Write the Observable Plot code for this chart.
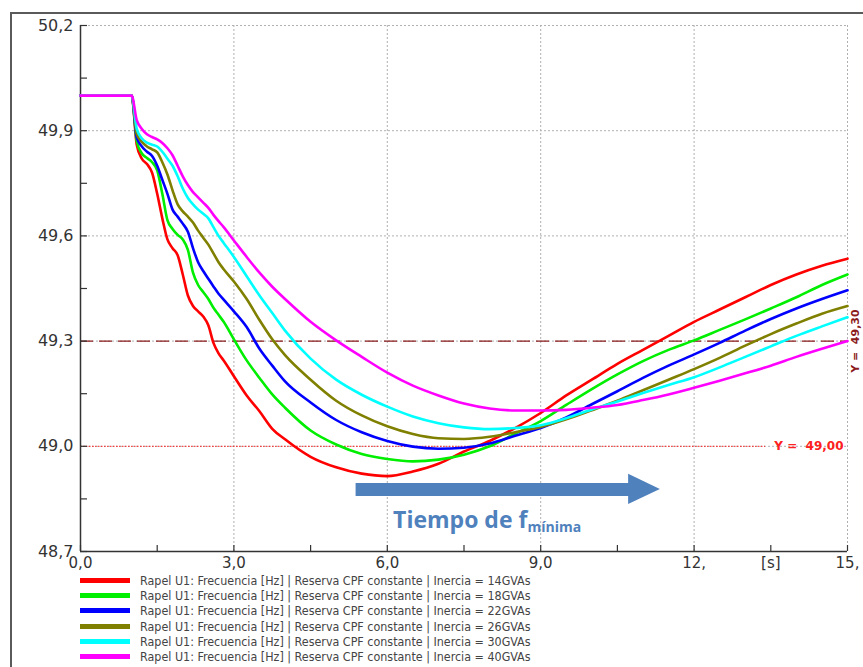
<!DOCTYPE html>
<html><head><meta charset="utf-8">
<script src="https://cdn.jsdelivr.net/npm/d3@7"></script>
<script src="https://cdn.jsdelivr.net/npm/@observablehq/plot@0.6"></script>
<style>
body{margin:0;background:#fff;}
#wrap{position:relative;width:863px;height:667px;overflow:hidden;background:#fff;}
#chart{position:absolute;left:0;top:0;}
#frame{position:absolute;left:10px;top:12px;width:900px;height:700px;border-top:2px solid #5a5a5a;border-left:2px solid #5a5a5a;pointer-events:none;}
#legend{position:absolute;left:80px;top:573px;font-family:"DejaVu Sans Condensed","DejaVu Sans";font-stretch:condensed;font-size:12.4px;color:#444;}
.row{display:flex;align-items:center;height:15.2px;white-space:nowrap;}
.sw{width:50px;height:5px;margin-right:10px;}
</style></head>
<body><div id="wrap"><div id="chart"></div><div id="frame"></div><div id="legend"></div></div>
<script>
// time grid [s]
const time = [0, 1.0, 1.1, 1.2, 1.3, 1.4, 1.5, 1.6, 1.7, 1.8, 1.9, 2.0, 2.1, 2.2, 2.3, 2.4, 2.5, 2.6, 2.7, 2.8, 3.0, 3.25, 3.5, 3.75, 4.0, 4.5, 5.0, 5.5, 6.0, 6.5, 7.0, 7.5, 8.0, 8.5, 9.0, 9.5, 10, 10.5, 11, 11.5, 12, 12.5, 13, 13.5, 14, 14.5, 15];
// frequency [Hz] per inertia
const f14 = [50.0, 50.0, 49.86, 49.82, 49.805, 49.78, 49.72, 49.65, 49.59, 49.565, 49.545, 49.49, 49.43, 49.40, 49.385, 49.37, 49.345, 49.295, 49.265, 49.245, 49.20, 49.145, 49.10, 49.05, 49.02, 48.97, 48.94, 48.922, 48.915, 48.928, 48.95, 48.985, 49.015, 49.052, 49.095, 49.145, 49.19, 49.235, 49.275, 49.315, 49.355, 49.39, 49.425, 49.46, 49.49, 49.515, 49.535];
const f18 = [50.0, 50.0, 49.87, 49.835, 49.822, 49.81, 49.787, 49.72, 49.645, 49.62, 49.603, 49.59, 49.56, 49.495, 49.46, 49.44, 49.42, 49.395, 49.375, 49.355, 49.305, 49.245, 49.195, 49.148, 49.11, 49.045, 49.005, 48.978, 48.964, 48.957, 48.962, 48.976, 49.0, 49.036, 49.072, 49.118, 49.163, 49.205, 49.243, 49.275, 49.302, 49.332, 49.362, 49.393, 49.425, 49.46, 49.49];
const f22 = [50.0, 50.0, 49.88, 49.855, 49.84, 49.828, 49.80, 49.76, 49.72, 49.675, 49.655, 49.635, 49.612, 49.565, 49.525, 49.50, 49.478, 49.456, 49.435, 49.418, 49.385, 49.34, 49.278, 49.23, 49.185, 49.125, 49.075, 49.04, 49.015, 48.999, 48.993, 48.996, 49.008, 49.03, 49.052, 49.082, 49.12, 49.157, 49.195, 49.23, 49.262, 49.295, 49.33, 49.363, 49.393, 49.42, 49.445];
const f26 = [50.0, 50.0, 49.89, 49.868, 49.855, 49.847, 49.838, 49.81, 49.775, 49.73, 49.69, 49.67, 49.655, 49.638, 49.615, 49.595, 49.575, 49.55, 49.525, 49.505, 49.47, 49.42, 49.36, 49.305, 49.26, 49.19, 49.13, 49.088, 49.057, 49.035, 49.023, 49.021, 49.027, 49.04, 49.055, 49.077, 49.103, 49.13, 49.16, 49.19, 49.22, 49.252, 49.287, 49.32, 49.35, 49.378, 49.40];
const f30 = [50.0, 50.0, 49.905, 49.878, 49.866, 49.86, 49.855, 49.84, 49.82, 49.80, 49.77, 49.735, 49.708, 49.69, 49.675, 49.663, 49.65, 49.625, 49.60, 49.58, 49.54, 49.485, 49.43, 49.38, 49.33, 49.25, 49.19, 49.147, 49.113, 49.085, 49.066, 49.054, 49.049, 49.052, 49.06, 49.08, 49.105, 49.128, 49.152, 49.175, 49.197, 49.225, 49.255, 49.285, 49.315, 49.342, 49.368];
const f40 = [50.0, 50.0, 49.93, 49.905, 49.89, 49.882, 49.875, 49.865, 49.85, 49.83, 49.80, 49.77, 49.745, 49.725, 49.71, 49.695, 49.68, 49.66, 49.642, 49.625, 49.587, 49.54, 49.495, 49.455, 49.42, 49.355, 49.302, 49.255, 49.21, 49.173, 49.145, 49.122, 49.108, 49.102, 49.102, 49.104, 49.11, 49.118, 49.132, 49.148, 49.167, 49.187, 49.208, 49.23, 49.255, 49.278, 49.30];

const inertia = ["14GVAs", "18GVAs", "22GVAs", "26GVAs", "30GVAs", "40GVAs"];
const seriesValues = [f14, f18, f22, f26, f30, f40];
const colors = ["#ff0000", "#00ee00", "#0000ff", "#808000", "#00ffff", "#ff00ff"];
const labelPrefix = "Rapel U1: Frecuencia [Hz] | Reserva CPF constante | Inercia = ";

// axes
const yTicks = [48.7, 49.0, 49.3, 49.6, 49.9, 50.2];
const xTicks = [0, 3, 6, 9, 12, 13.5, 15];
const xTickLabels = ["0,0", "3,0", "6,0", "9,0", "12,", "[s]", "15,"];
const xGrid = [3, 6, 9, 12, 15];
const yGrid = [49.0, 49.3, 49.6, 49.9, 50.2];
const xMinor = [0, 1.5, 3, 4.5, 6, 7.5, 9, 10.5, 12, 13.5, 15];
const yMinor = [48.7, 48.85, 49.0, 49.15, 49.3, 49.45, 49.6, 49.75, 49.9, 50.05, 50.2];

// reference lines and annotation
const refLines = [49.30, 49.00];
const refLabels = ["Y =  49,30", "Y =  49,00"];
const arrowShaftX = [5.38, 10.75];
const arrowLevel = 48.877;
const arrowHeadX = [10.72, 11.34];
const arrowHeadLow = [48.834, 48.877];
const arrowHeadHigh = [48.920, 48.877];
const noteX = 8.74;
const noteMain = "Tiempo de f";
const noteSub = "mínima";

const rows = [];
seriesValues.forEach((vals, s) => vals.forEach((v, i) => rows.push({t: time[i], f: v, s})));
const head = arrowHeadX.map((x, i) => ({x, y1: arrowHeadLow[i], y2: arrowHeadHigh[i]}));
const shaft = arrowShaftX.map(x => ({x, y: arrowLevel}));
const fmtY = d => d.toFixed(1).replace(".", ",");
const xLab = new Map(xTicks.map((t, i) => [t, xTickLabels[i]]));

const W = 863, H = 572, mL = 80, mR = 16, mT = 25, mB = 21;
const pw = W - mL - mR, ph = H - mT - mB;

const chart = Plot.plot({
  width: W, height: H,
  marginLeft: mL, marginRight: mR, marginTop: mT, marginBottom: mB,
  x: {domain: [0, 15]},
  y: {domain: [48.7, 50.2]},
  style: {fontFamily: "DejaVu Sans", background: "transparent", overflow: "visible"},
  marks: [
    Plot.gridX(xGrid, {stroke: "#b0b0b0", strokeOpacity: 1, strokeDasharray: "2,2"}),
    Plot.gridY(yGrid, {stroke: "#b0b0b0", strokeOpacity: 1, strokeDasharray: "2,2"}),
    Plot.ruleY([refLines[1]], {stroke: "#ff2020", strokeWidth: 1, strokeDasharray: "1.5,1.5", insetRight: 82}),
    Plot.ruleY([refLines[0]], {stroke: "#8b1a1a", strokeWidth: 1.4, strokeDasharray: "13,6"}),
    Plot.text([refLabels[1]], {y: refLines[1], frameAnchor: "right", textAnchor: "end", dx: -4, text: d => d, fill: "#ff2020", fontWeight: "bold", fontSize: 12, fontFamily: "DejaVu Sans"}),
    Plot.text([refLabels[0]], {y: refLines[0], frameAnchor: "right", textAnchor: "middle", rotate: -90, dx: 8, text: d => d, fill: "#8b1a1a", fontWeight: "bold", fontSize: 11, fontFamily: "DejaVu Sans"}),
    Plot.tickY(yMinor, {y: d => d, stroke: "#333", strokeWidth: 1.2, insetRight: pw - 7}),
    Plot.tickX(xMinor, {x: d => d, stroke: "#333", strokeWidth: 1.2, insetTop: ph - 6}),
    Plot.ruleX([0], {stroke: "#333", strokeWidth: 1.5}),
    Plot.ruleY([48.7], {stroke: "#333", strokeWidth: 1.5}),
    Plot.axisY({ticks: yTicks, tickFormat: fmtY, tickSize: 0, tickPadding: 7, fontSize: 16, fill: "#333", label: null}),
    Plot.axisX({ticks: xTicks, tickFormat: d => xLab.get(d), tickSize: 0, tickPadding: 6, fontSize: 15, fill: "#333", label: null}),
    Plot.line(rows, {x: "t", y: "f", z: "s", stroke: d => colors[d.s], strokeWidth: 2.6, curve: "monotone-x"}),
    Plot.line(shaft, {x: "x", y: "y", stroke: "#4f81bd", strokeWidth: 13, strokeLinecap: "butt"}),
    Plot.areaY(head, {x: "x", y1: "y1", y2: "y2", fill: "#4f81bd", curve: "linear"}),
    Plot.text([noteMain], {x: noteX, y: arrowLevel, dy: 31, text: d => d, textAnchor: "end", fill: "#4f81bd", fontWeight: "bold", fontSize: 23, fontFamily: "Open Sans"}),
    Plot.text([noteSub], {x: noteX, y: arrowLevel, dy: 38, text: d => d, textAnchor: "start", fill: "#4f81bd", fontWeight: "bold", fontSize: 14, fontFamily: "Open Sans"})
  ]
});
document.getElementById("chart").appendChild(chart);

const legend = document.getElementById("legend");
inertia.forEach((g, i) => {
  const r = document.createElement("div"); r.className = "row";
  const sw = document.createElement("div"); sw.className = "sw"; sw.style.background = colors[i];
  const tx = document.createElement("span"); tx.textContent = labelPrefix + g;
  r.appendChild(sw); r.appendChild(tx); legend.appendChild(r);
});
</script>
</body></html>
